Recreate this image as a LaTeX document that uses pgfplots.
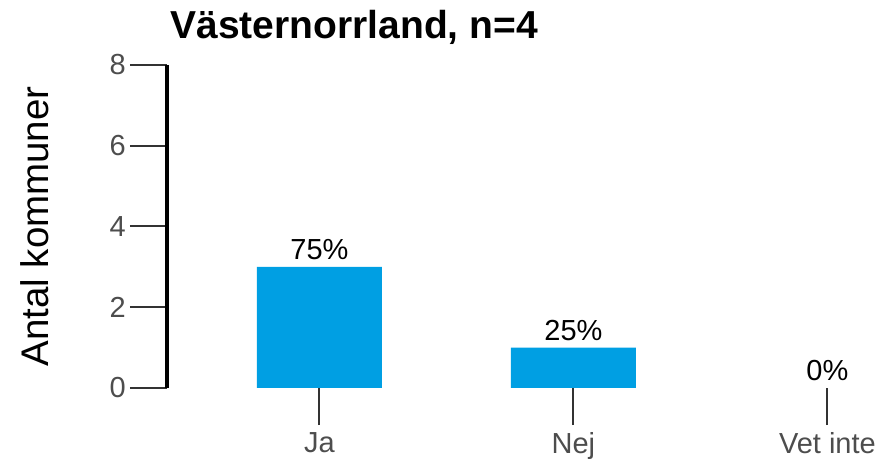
\documentclass[border=0pt]{standalone}
\usepackage{fontspec}
\setmainfont{Liberation Sans}
\usepackage{pgfplots}
\pgfplotsset{compat=1.18}
\definecolor{barblue}{HTML}{009FE3}
\definecolor{tickgray}{HTML}{4D4D4D}
\definecolor{tickline}{HTML}{333333}
\begin{document}
\begin{tikzpicture}
\useasboundingbox (0,0) rectangle (884bp,466bp);
\begin{axis}[
  at={(167bp,78bp)}, anchor=south west,
  scale only axis, width=711.2bp, height=323bp,
  xmin=-0.6, xmax=2.2, ymin=0, ymax=8,
  axis x line*=bottom, axis y line*=left,
  x axis line style={draw=none},
  y axis line style={line width=4bp, black},
  xtick={0,1,2}, xticklabels={Ja,Nej,Vet inte},
  ytick={0,2,4,6,8},
  tick align=outside,
  major tick length=37bp,
  every tick/.style={line width=2bp, tickline},
  tick label style={font=\fontsize{29bp}{34bp}\selectfont, text=tickgray},
  /pgf/number format/assume math mode=true,
  xticklabel style={inner sep=0pt, yshift=-7bp},
  yticklabel style={inner sep=4bp},
  ylabel={Antal kommuner},
  ylabel style={at={(axis description cs:-0.186,0.5)}, anchor=center, font=\fontsize{38.5bp}{44bp}\selectfont},
  title={Västernorrland, n=4},
  title style={at={(axis description cs:0,1)}, anchor=base west, yshift=21bp, font=\fontsize{39bp}{46bp}\selectfont\bfseries},
  clip=false,
  every node near coord/.append style={font=\fontsize{29bp}{34bp}\selectfont, text=black, anchor=base, yshift=7bp, inner sep=0pt},
]
\addplot[ybar, fill=barblue, draw=none, bar width=125bp,
  nodes near coords, point meta=explicit symbolic]
  coordinates {(0,3) [75\%] (1,1) [25\%]};
\addplot[draw=none, mark=none, nodes near coords, point meta=explicit symbolic]
  coordinates {(2,0) [0\%]};
\end{axis}
\end{tikzpicture}
\end{document}
